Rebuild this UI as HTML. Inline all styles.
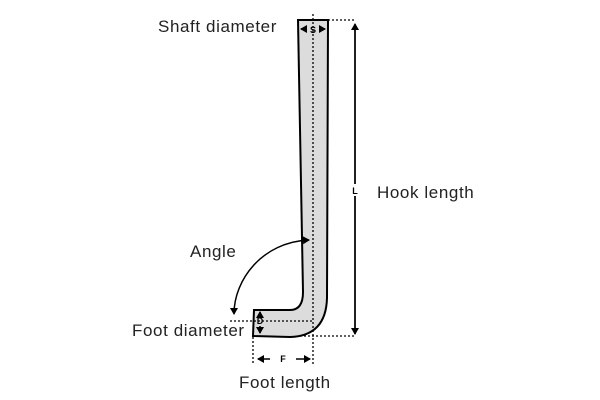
<!DOCTYPE html>
<html><head><style>body{margin:0;background:#fff}svg{display:block}</style></head><body>
<svg width="600" height="400" xmlns="http://www.w3.org/2000/svg" font-family="Liberation Sans, sans-serif">
<defs>
<marker id="a" markerWidth="8" markerHeight="8" refX="6" refY="4" orient="auto" markerUnits="userSpaceOnUse"><path d="M0,0 L7,4 L0,8 z" fill="#000"/></marker>
<marker id="b" markerWidth="8" markerHeight="8" refX="1" refY="4" orient="auto" markerUnits="userSpaceOnUse"><path d="M7,0 L0,4 L7,8 z" fill="#000"/></marker>
</defs>
<path d="M298,20 L328,20 L327,298 Q326,336 290,337 L253,336 L254,310 L290,310 Q303,310 303,292 Z" fill="#dcdcdc" stroke="#000" stroke-width="2"/>
<g stroke="#000" stroke-width="1.3" stroke-dasharray="2,2" fill="none">
<line x1="313" y1="14" x2="313" y2="365"/>
<line x1="328" y1="20" x2="355" y2="20"/>
<line x1="300" y1="336" x2="355" y2="336"/>
<line x1="230" y1="321" x2="313" y2="321"/>
<line x1="253" y1="337" x2="253" y2="365"/>
</g>
<g stroke="#000" stroke-width="1.5" fill="none">
<line x1="355" y1="332" x2="355" y2="24" marker-end="url(#a)"/>
<line x1="355" y1="30" x2="355" y2="334" marker-end="url(#a)"/>
<line x1="270" y1="359" x2="258" y2="359" marker-end="url(#a)"/>
<line x1="296" y1="359" x2="310" y2="359" marker-end="url(#a)"/>
<line x1="306" y1="29" x2="301" y2="29" marker-end="url(#a)"/>
<line x1="320" y1="29" x2="325" y2="29" marker-end="url(#a)"/>
<line x1="260" y1="318" x2="260" y2="312" marker-end="url(#a)"/>
<line x1="260" y1="326" x2="260" y2="333" marker-end="url(#a)"/>
<path d="M234,314 C234,280 262,242 309,240" marker-start="url(#b)" marker-end="url(#a)"/>
</g>
<rect x="350" y="184" width="10" height="12" fill="#fff"/>
<rect x="276" y="354" width="14" height="10" fill="#fff"/>
<g font-size="9" font-weight="bold" text-anchor="middle">
<text x="313" y="33">S</text><text x="355" y="194">L</text><text x="283" y="362">F</text><text x="260" y="324">D</text>
</g>
<g font-size="17" fill="#222" letter-spacing="0.6">
<text x="158" y="32">Shaft diameter</text>
<text x="377" y="198">Hook length</text>
<text x="190" y="257">Angle</text>
<text x="132" y="336">Foot diameter</text>
<text x="239" y="388">Foot length</text>
</g>
</svg>
</body></html>
